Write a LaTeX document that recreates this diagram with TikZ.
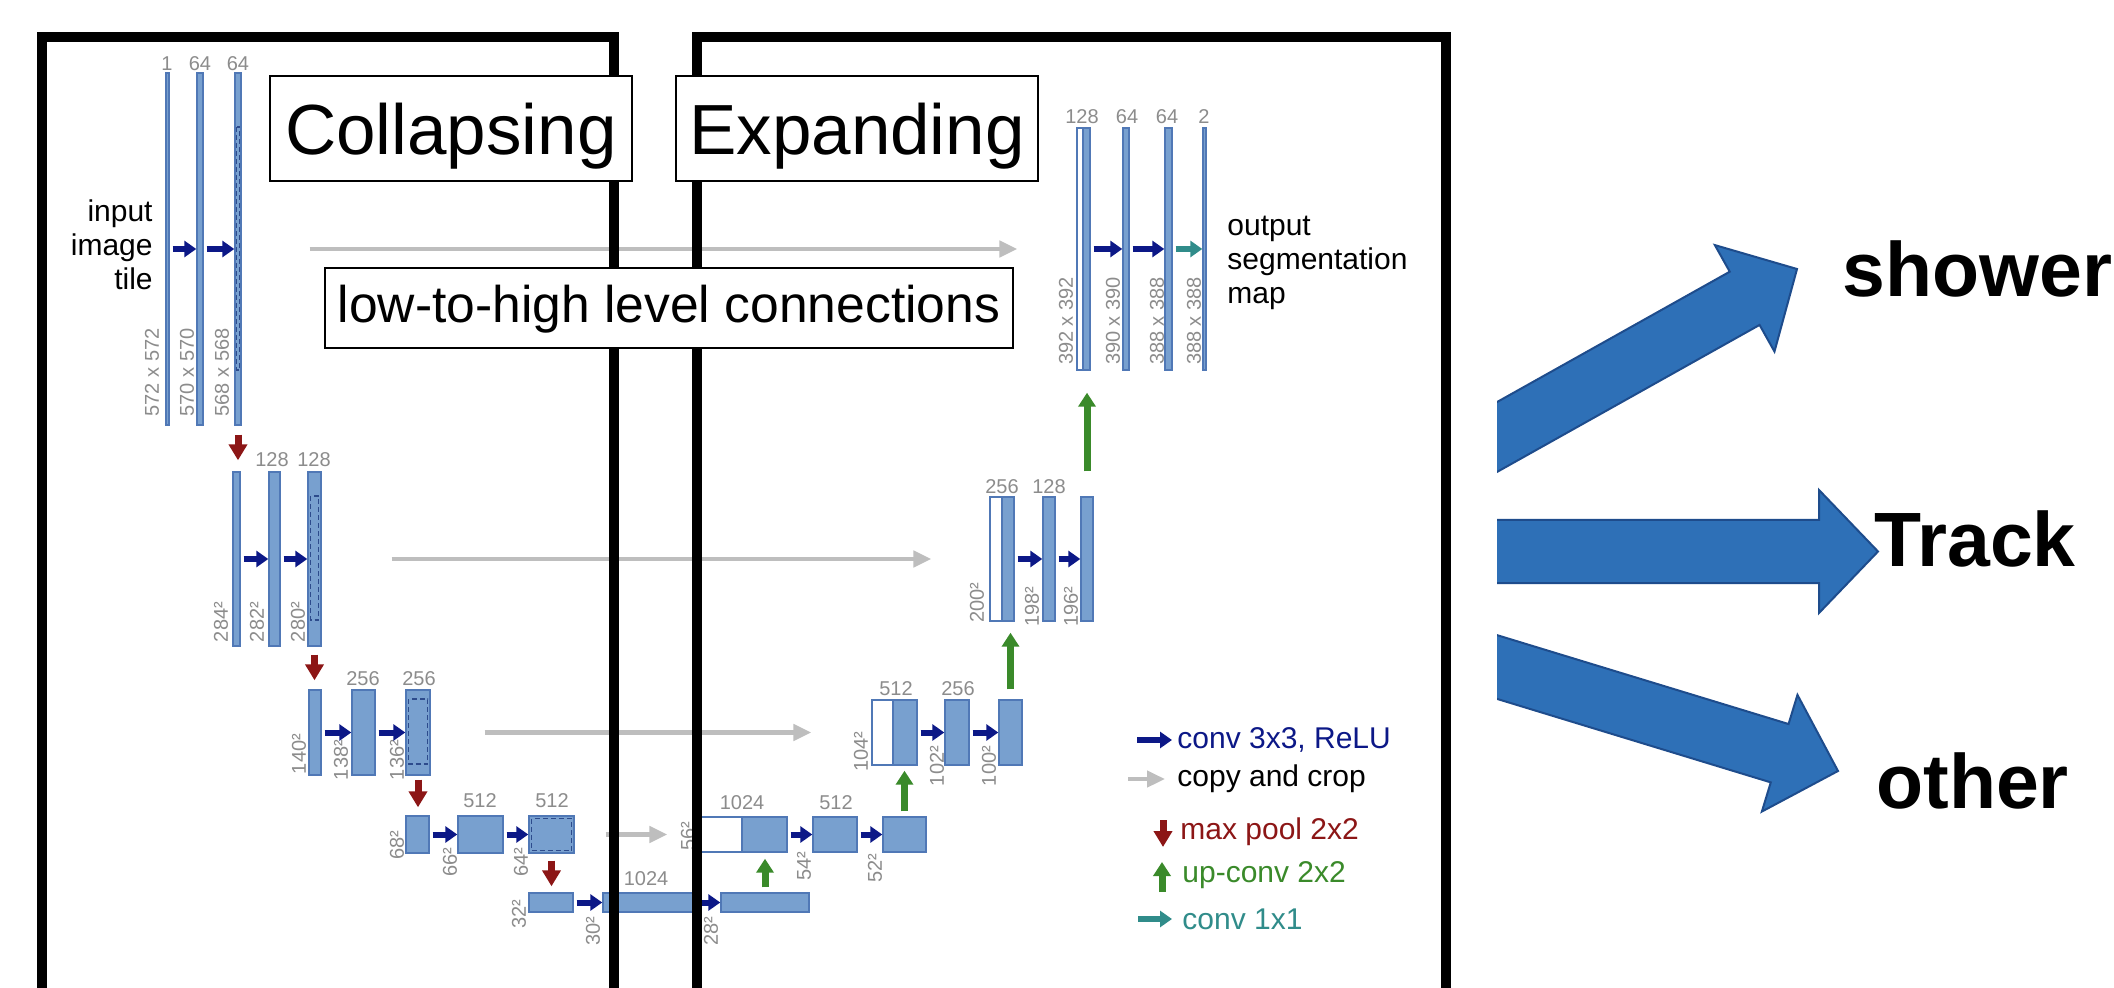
\documentclass[tikz,border=0pt]{standalone}
\usepackage{fontspec}
\setmainfont{Liberation Sans}
\usetikzlibrary{arrows.meta,fit}
\definecolor{barfill}{RGB}{120,160,207}
\definecolor{barline}{RGB}{80,120,182}
\definecolor{dashc}{RGB}{45,75,140}
\definecolor{lblgray}{RGB}{140,140,140}
\definecolor{convblue}{RGB}{12,24,135}
\definecolor{copygray}{RGB}{190,190,190}
\definecolor{poolred}{RGB}{140,22,22}
\definecolor{upgreen}{RGB}{58,138,42}
\definecolor{tealc}{RGB}{48,140,138}
\definecolor{bigfill}{RGB}{46,112,183}
\definecolor{bigline}{RGB}{30,76,140}
\tikzset{
  unbar/.style={draw=barline, fill=barfill, line width=0.7pt, inner sep=0pt, rectangle},
  wbar/.style={unbar, fill=white},
  cropd/.style={draw=dashc, line width=0.7pt, dash pattern=on 2.5pt off 1.5pt},
  chl/.style={text=lblgray, font=\fontsize{10}{10}\selectfont, inner sep=0pt},
  szl/.style={chl, rotate=90},
  conv/.style={draw=convblue, line width=3pt, -{Triangle[length=6pt,width=8pt]}, shorten <=1.5pt},
  conv1/.style={draw=tealc, line width=3pt, -{Triangle[length=6pt,width=8pt]}, shorten <=1.5pt},
  copyarr/.style={draw=copygray, line width=2.4pt, -{Triangle[length=9pt,width=8pt]}},
  pool/.style={draw=poolred, line width=3.5pt, -{Triangle[length=8pt,width=9pt]}},
  upconv/.style={draw=upgreen, line width=3.5pt, -{Triangle[length=7pt,width=8.5pt]}},
  frameline/.style={draw=black, line width=5pt, line join=miter},
  tbox/.style={draw=black, fill=white, line width=1.4pt, inner sep=0pt},
  bigarrow/.style={fill=bigfill, draw=bigline, line width=1pt, line join=miter},
  legtext/.style={font=\fontsize{15}{17}\selectfont, anchor=west, inner sep=0pt},
  bigtext/.style={font=\fontsize{38.5}{40}\selectfont\bfseries, anchor=base west, inner sep=0pt},
  sidetext/.style={font=\fontsize{15}{17}\selectfont, inner sep=0pt},
}
\newcommand{\unetbar}[6][unbar]{\node[#1, fit={(#3,#4) (#5,#6)}] (#2) {};}
\begin{document}
\begin{tikzpicture}[x=0.5pt,y=-0.5pt]
\useasboundingbox (0,0) rectangle (2114,988);
\fill[white] (0,0) rectangle (2114,988);

% ---------- contracting path ----------
\unetbar{L1a}{166}{73}{169}{425}
\unetbar{L1b}{197}{73}{203}{425}
\unetbar{L1c}{235}{73}{241}{425}
\draw[cropd] (236.5,127) rectangle (239.5,370);
\node[chl] (c1a) at (167,64) {1};
\node[chl] (c1b) at (200,64) {64};
\node[chl] (c1c) at (238,64) {64};
\node[szl] (s1a) at (152,372.5) {572 x 572};
\node[szl] (s1b) at (187,372.5) {570 x 570};
\node[szl] (s1c) at (222,372.5) {568 x 568};
\node[sidetext, align=right, anchor=east] (inp) at (153,245) {input\\image\\tile};

\unetbar{L2a}{233}{472}{240}{646}
\unetbar{L2b}{269}{472}{280}{646}
\unetbar{L2c}{308}{472}{321}{646}
\draw[cropd] (310.5,496) rectangle (318.5,620);
\node[chl] (c2b) at (272,460) {128};
\node[chl] (c2c) at (314,460) {128};
\node[szl] (s2a) at (221,622) {284²};
\node[szl] (s2b) at (257,622) {282²};
\node[szl] (s2c) at (298,622) {280²};

\unetbar{L3a}{309}{690}{321}{775}
\unetbar{L3b}{352}{690}{375}{775}
\unetbar{L3c}{406}{690}{430}{775}
\draw[cropd] (408.5,699) rectangle (427.5,764);
\node[chl] (c3b) at (363,679) {256};
\node[chl] (c3c) at (419,679) {256};
\node[szl] (s3a) at (299,754) {140²};
\node[szl] (s3b) at (341,760) {138²};
\node[szl] (s3c) at (397,760) {136²};

\unetbar{L4a}{406}{816}{429}{853}
\unetbar{L4b}{458}{816}{503}{853}
\unetbar{L4c}{529}{816}{574}{853}
\draw[cropd] (531.5,818.5) rectangle (571.5,850.5);
\node[chl] (c4b) at (480,801) {512};
\node[chl] (c4c) at (552,801) {512};
\node[szl] (s4a) at (397,845) {68²};
\node[szl] (s4b) at (450,862) {66²};
\node[szl] (s4c) at (521,862) {64²};

\unetbar{L5a}{529}{893}{573}{912}
\unetbar{L5b}{603}{893}{695}{912}
\unetbar{L5c}{721}{893}{809}{912}
\node[chl] (c5b) at (646,879) {1024};
\node[szl] (s5a) at (519,914.5) {32²};
\node[szl] (s5b) at (593,931.5) {30²};
\node[szl] (s5c) at (711,931.5) {28²};

% ---------- expanding path ----------
\unetbar[wbar]{R4w}{700}{817}{742}{852}
\unetbar{R4b}{742}{817}{787}{852}
\unetbar{R4c}{813}{817}{857}{852}
\unetbar{R4d}{883}{817}{926}{852}
\node[chl] (c6a) at (742,803) {1024};
\node[chl] (c6c) at (836,803) {512};
\node[szl] (s6a) at (688,836) {56²};
\node[szl] (s6b) at (804,866.5) {54²};
\node[szl] (s6c) at (875,868) {52²};

\unetbar[wbar]{R3w}{872}{700}{893}{765}
\unetbar{R3b}{893}{700}{917}{765}
\unetbar{R3c}{945}{700}{969}{765}
\unetbar{R3d}{999}{700}{1022}{765}
\node[chl] (c7a) at (896,689) {512};
\node[chl] (c7c) at (958,689) {256};
\node[szl] (s7a) at (861,751.5) {104²};
\node[szl] (s7b) at (937,766) {102²};
\node[szl] (s7c) at (989,766) {100²};

\unetbar[wbar]{R2w}{990}{497}{1002}{621}
\unetbar{R2b}{1002}{497}{1014}{621}
\unetbar{R2c}{1043}{497}{1055}{621}
\unetbar{R2d}{1081}{497}{1093}{621}
\node[chl] (c8a) at (1002,487) {256};
\node[chl] (c8c) at (1049,487) {128};
\node[szl] (s8a) at (977,602.5) {200²};
\node[szl] (s8b) at (1032,606.5) {198²};
\node[szl] (s8c) at (1071,606.5) {196²};

\unetbar[wbar]{R1w}{1077}{128}{1083}{370}
\unetbar{R1b}{1083}{128}{1090}{370}
\unetbar{R1c}{1123}{128}{1129}{370}
\unetbar{R1d}{1165}{128}{1172}{370}
\unetbar{R1e}{1203}{128}{1206}{370}
\node[chl] (c9a) at (1082,117) {128};
\node[chl] (c9c) at (1127,117) {64};
\node[chl] (c9d) at (1167,117) {64};
\node[chl] (c9e) at (1204,117) {2};
\node[szl] (s9a) at (1066,321) {392 x 392};
\node[szl] (s9c) at (1113,321) {390 x 390};
\node[szl] (s9d) at (1157,321) {388 x 388};
\node[szl] (s9e) at (1194,321) {388 x 388};
\node[sidetext, align=left, anchor=west] (outp) at (1227,263) {output\\segmentation\\map};

% ---------- conv arrows ----------
\draw[conv] (L1a) -- (L1b);
\draw[conv] (L1b) -- (L1c);
\draw[conv] (L2a) -- (L2b);
\draw[conv] (L2b) -- (L2c);
\draw[conv] (L3a) -- (L3b);
\draw[conv] (L3b) -- (L3c);
\draw[conv] (L4a) -- (L4b);
\draw[conv] (L4b) -- (L4c);
\draw[conv] (L5a) -- (L5b);
\draw[conv] (L5b) -- (L5c);
\draw[conv] (R4b) -- (R4c);
\draw[conv] (R4c) -- (R4d);
\draw[conv] (R3b) -- (R3c);
\draw[conv] (R3c) -- (R3d);
\draw[conv] (R2b) -- (R2c);
\draw[conv] (R2c) -- (R2d);
\draw[conv] (R1b) -- (R1c);
\draw[conv] (R1c) -- (R1d);
\draw[conv1] (R1d) -- (R1e);

% ---------- max pool ----------
\draw[pool, shorten <=4.5pt, shorten >=5.5pt] (L1c.south) -- (L1c.south |- L2a.north);
\draw[pool, shorten <=4pt, shorten >=4.5pt] (L2c.south) -- (L2c.south |- L3a.north);
\draw[pool, shorten <=2pt, shorten >=4pt] (L3c.south) -- (L3c.south |- L4a.north);
\draw[pool, shorten <=3.5pt, shorten >=3pt] (L4c.south) -- (L4c.south |- L5a.north);

% ---------- up-conv ----------
\draw[upconv, shorten <=2.5pt, shorten >=3pt] (L5c.north) -- (L5c.north |- R4b.south);
\draw[upconv, shorten <=2.5pt, shorten >=2.5pt] (R4d.north) -- (R4d.north |- R3b.south);
\draw[upconv, shorten <=5pt, shorten >=5.5pt] (R3d.north) -- (R3d.north |- R2b.south);
\draw[upconv, shorten <=12.5pt, shorten >=11pt] (R2d.north) -- (R2d.north |- R1b.south);

% ---------- copy and crop ----------
\draw[copyarr, shorten <=34pt, shorten >=29.5pt] (L1c) -- (R1w);
\draw[copyarr, shorten <=35pt, shorten >=29pt] (L2c) -- (R2w);
\draw[copyarr, shorten <=27pt, shorten >=30pt] (L3c) -- (R3w);
\draw[copyarr, shorten <=15.5pt, shorten >=16pt] (L4c) -- (R4w);

% ---------- frames ----------
\draw[frameline] (42,1010) -- (42,37) -- (614,37) -- (614,1010);
\draw[frameline] (697,1010) -- (697,37) -- (1446,37) -- (1446,1010);

% ---------- title boxes ----------
\node[tbox, fit={(270,76) (632,181)}] (colbox) {};
\node[font=\fontsize{35.5}{36}\selectfont, anchor=base, inner sep=0pt] (coltxt) at (451,155) {Collapsing};
\node[tbox, fit={(676,76) (1038,181)}] (expbox) {};
\node[font=\fontsize{35.5}{36}\selectfont, anchor=base, inner sep=0pt] (exptxt) at (857,155) {Expanding};
\node[tbox, fit={(325,268) (1013,348)}] (lhbox) {};
\node[font=\fontsize{25.8}{26}\selectfont, anchor=base, inner sep=0pt] (lhtxt) at (669,323) {low-to-high level connections};

% ---------- legend ----------
\node[legtext, text=convblue] (lg1) at (1177,740) {conv 3x3, ReLU};
\coordinate (lg1a) at (1137,740);
\draw[conv, shorten <=0pt, shorten >=2.5pt] (lg1a) -- (lg1.west);
\node[legtext] (lg2) at (1177,779) {copy and crop};
\coordinate (lg2a) at (1128,779);
\draw[copyarr, shorten >=6pt] (lg2a) -- (lg2.west);
\node[legtext, text=poolred] (lg3) at (1180,832) {max pool 2x2};
\coordinate (lg3a) at (1163,820);
\coordinate (lg3b) at (1163,847);
\draw[pool] (lg3a) -- (lg3b);
\node[legtext, text=upgreen] (lg4) at (1182,875) {up-conv 2x2};
\coordinate (lg4a) at (1162,892);
\coordinate (lg4b) at (1162,862);
\draw[upconv] (lg4a) -- (lg4b);
\node[legtext, text=tealc] (lg5) at (1182,919) {conv 1x1};
\coordinate (lg5a) at (1138,919);
\draw[conv1, shorten <=0pt, shorten >=5pt] (lg5a) -- (lg5.west);

% ---------- output classes ----------
\begin{scope}
\clip (1497,0) rectangle (2114,988);
\begin{scope}[shift={(1797,269)}, rotate=29.25]
\draw[bigarrow] (0,0) -- (-60,61) -- (-60,30.5) -- (-420,30.5) -- (-420,-30.5) -- (-60,-30.5) -- (-60,-61) -- cycle;
\end{scope}
\begin{scope}[shift={(1878,551.5)}]
\draw[bigarrow] (0,0) -- (-59,61.5) -- (-59,31.5) -- (-420,31.5) -- (-420,-31.5) -- (-59,-31.5) -- (-59,-61.5) -- cycle;
\end{scope}
\begin{scope}[shift={(1838,771)}, rotate=-16.96]
\draw[bigarrow] (0,0) -- (-61,61) -- (-61,30.5) -- (-420,30.5) -- (-420,-30.5) -- (-61,-30.5) -- (-61,-61) -- cycle;
\end{scope}
\end{scope}
\node[bigtext] (shw) at (1842,297) {shower};
\node[bigtext] (trk) at (1874,567) {Track};
\node[bigtext] (oth) at (1876,808) {other};
\end{tikzpicture}
\end{document}
